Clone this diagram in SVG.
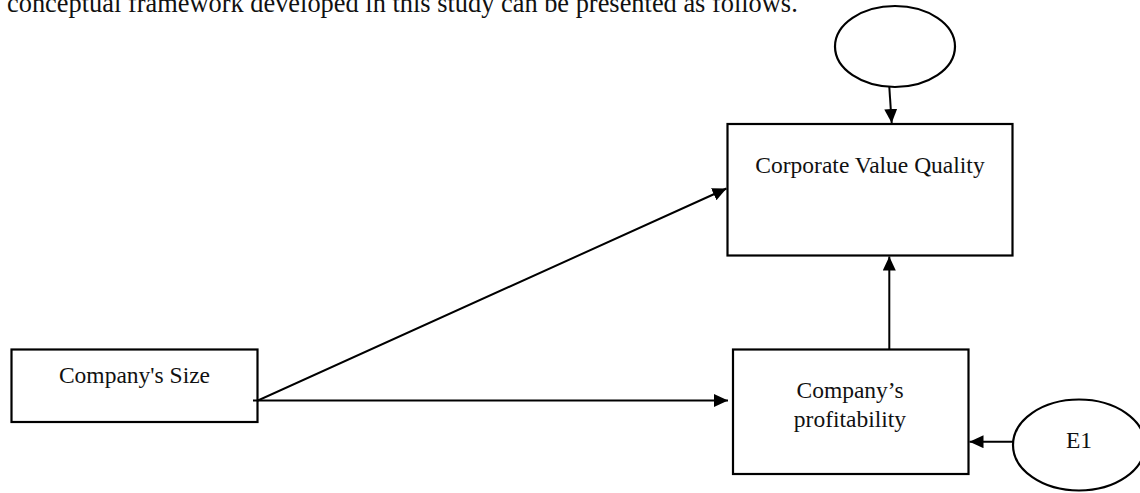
<svg xmlns="http://www.w3.org/2000/svg" width="1140" height="493" viewBox="0 0 1140 493">
<style>
text{font-family:"Liberation Serif","Times New Roman",serif;font-size:23.5px;fill:#111;}
.top{font-size:26.4px;}
.box{fill:#fff;stroke:#000;stroke-width:2.2;}
.ell{fill:#fff;stroke:#000;stroke-width:2.2;}
.c{fill:none;stroke:#000;stroke-width:2;marker-end:url(#ah);}
</style>
<defs>
<marker id="ah" markerUnits="userSpaceOnUse" markerWidth="15" markerHeight="14" refX="14" refY="6.5" orient="auto">
<path d="M0,0 L14,6.5 L0,13 z" fill="#000"/>
</marker>
</defs>
<rect width="1140" height="493" fill="#fff"/>
<text class="top" x="7" y="12">conceptual framework developed in this study can be presented as follows.</text>
<g id="n-corporate"><rect class="box" x="727.5" y="124" width="285" height="131.5"/><text x="870" y="172.7" text-anchor="middle">Corporate Value Quality</text></g>
<g id="n-size"><rect class="box" x="11.5" y="349.5" width="246" height="72.5"/><text x="134.5" y="383.3" text-anchor="middle">Company's Size</text></g>
<g id="n-profit"><rect class="box" x="733" y="349.5" width="235.5" height="124.5"/><text x="850" y="398.3" text-anchor="middle">Company’s</text><text x="850" y="426.5" text-anchor="middle">profitability</text></g>
<g id="n-top"><ellipse class="ell" cx="895" cy="46.5" rx="60" ry="40.5"/></g>
<g id="n-e1"><ellipse class="ell" cx="1079" cy="445" rx="66" ry="45.5"/><text x="1079" y="448.3" text-anchor="middle">E1</text></g>
<g id="connectors">
<path class="c" d="M889.3,87 L891.7,123"/>
<path class="c" d="M253,400.5 L258,400.5 L726.5,188.5"/>
<path class="c" d="M258,400.5 L728,400.5"/>
<path class="c" d="M889.3,349 L889.3,256.5"/>
<path class="c" d="M1013,441.7 L969.5,441.7"/>
</g>
</svg>
